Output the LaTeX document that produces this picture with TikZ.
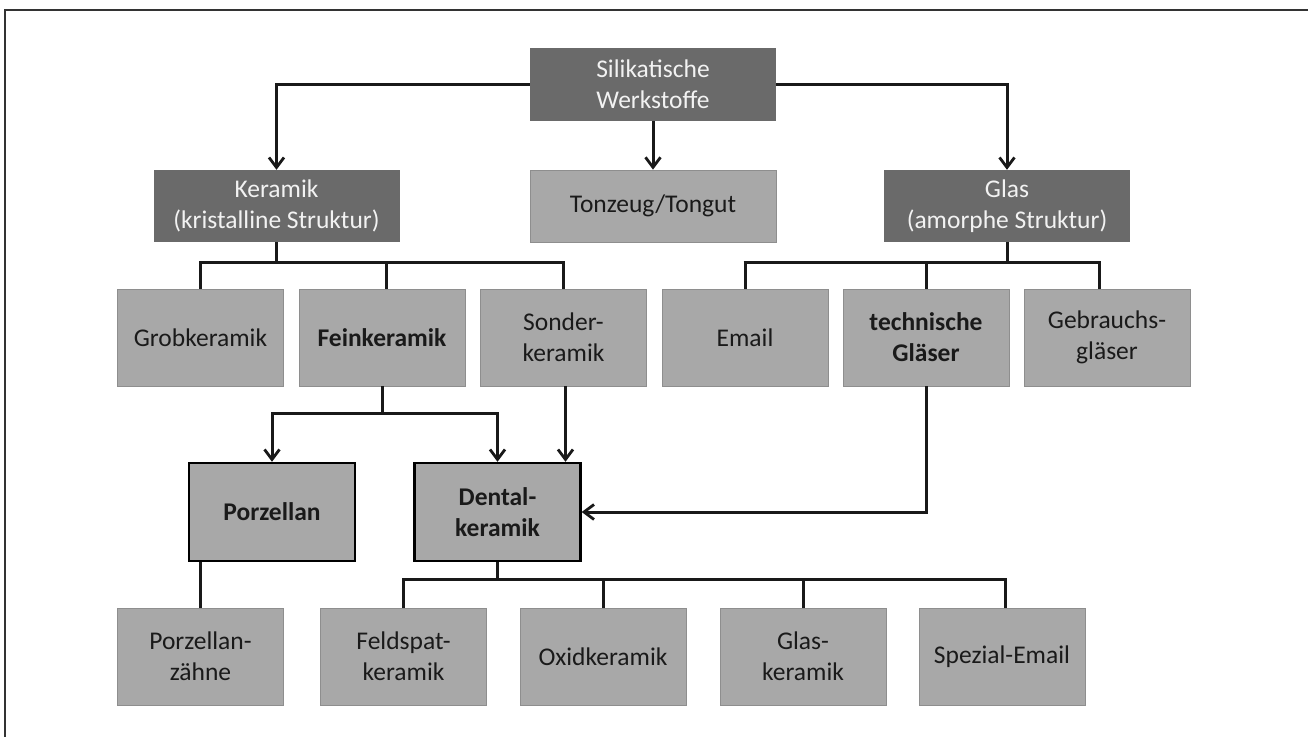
\documentclass[tikz,border=0pt]{standalone}
\usepackage{fontspec}
\setmainfont{Carlito}
\usetikzlibrary{arrows.meta}
\definecolor{darkbox}{HTML}{6A6A6A}
\definecolor{lightbox}{HTML}{A8A8A8}
\definecolor{lightedge}{HTML}{8E8E8E}
\definecolor{txtdark}{HTML}{1A1A1A}
\definecolor{txtlight}{HTML}{F2F2F2}
\definecolor{framecol}{HTML}{333333}
\tikzset{
  base/.style={rectangle, align=center, inner sep=2pt, font=\fontsize{25.5}{31}\selectfont},
  darkn/.style={base, fill=darkbox, text=txtlight, minimum width=246pt, minimum height=73pt},
  lightn/.style={base, fill=lightbox, draw=lightedge, line width=0.8pt, text=txtdark, minimum width=166pt, minimum height=97pt},
  keyn/.style={base, fill=lightbox, draw=black, line width=2.4pt, text=txtdark, minimum width=166pt, minimum height=98pt, font=\fontsize{25.5}{31}\selectfont\bfseries},
  conn/.style={line width=3pt, draw=black!90},
  arr/.style={conn, -{Straight Barb[length=10pt,width=15pt,line width=2.8pt]}},
}
\begin{document}
\begin{tikzpicture}[x=1pt,y=-1pt]
\useasboundingbox (0,0) rectangle (1308,737);
\draw[framecol, line width=2pt] (1308,10) -- (5,10) -- (5,737);

% level 0/1
\node[darkn] (sil) at (653,84.5) {Silikatische\\Werkstoffe};
\node[darkn, minimum height=72pt] (ker) at (276.5,206) {Keramik\\(kristalline Struktur)};
\node[lightn, minimum width=246pt, minimum height=72pt] (ton) at (653,206) {Tonzeug/Tongut};
\node[darkn, minimum height=72pt] (gla) at (1007,206) {Glas\\(amorphe Struktur)};

% level 2
\node[lightn] (grob) at (200.5,337.5) {Grobkeramik};
\node[lightn, font=\fontsize{25.5}{31}\selectfont\bfseries] (fein) at (382,337.5) {Feinkeramik};
\node[lightn] (sond) at (563.5,337.5) {Sonder-\\keramik};
\node[lightn] (email) at (745,337.5) {Email};
\node[lightn, font=\fontsize{25.5}{31}\selectfont\bfseries] (tech) at (926,337.5) {technische\\Gläser};
\node[lightn] (gebr) at (1107,337.5) {Gebrauchs-\\gläser};

% level 3
\node[keyn] (porz) at (272,512) {Porzellan};
\node[keyn] (dent) at (497.5,512) {Dental-\\keramik};

% level 4
\node[lightn] (pz) at (200.5,656.5) {Porzellan-\\zähne};
\node[lightn] (feld) at (403.5,656.5) {Feldspat-\\keramik};
\node[lightn] (oxid) at (603,656.5) {Oxidkeramik};
\node[lightn] (glk) at (803,656.5) {Glas-\\keramik};
\node[lightn] (spez) at (1002,656.5) {Spezial-Email};

% bus coordinates
\coordinate (kbus) at (0,262);
\coordinate (gbus) at (0,262);
\coordinate (fbus) at (0,413);
\coordinate (dbus) at (0,579);

% top arrows
\draw[arr] (sil.west) -| (ker.north);
\draw[arr] (sil.east) -| (gla.north);
\draw[arr] (sil.south) -- (ton.north);

% Keramik bus
\draw[conn] (ker.south) -- (ker.south |- kbus);
\draw[conn] ([xshift=-1.5pt]grob.north |- kbus) -- ([xshift=1.5pt]sond.north |- kbus);
\draw[conn] (grob.north) -- (grob.north |- kbus);
\draw[conn] ([xshift=4pt]fein.north) -- ([xshift=4pt]fein.north |- kbus);
\draw[conn] (sond.north) -- (sond.north |- kbus);

% Glas bus
\draw[conn] (gla.south) -- (gla.south |- gbus);
\draw[conn] ([xshift=-1.5pt]email.north |- gbus) -- ([xshift=-6.5pt]gebr.north |- gbus);
\draw[conn] (email.north) -- (email.north |- gbus);
\draw[conn] (tech.north) -- (tech.north |- gbus);
\draw[conn] ([xshift=-8pt]gebr.north) -- ([xshift=-8pt]gebr.north |- gbus);

% Feinkeramik to Porzellan / Dental
\draw[conn] (fein.south) -- (fein.south |- fbus);
\draw[arr] (fein.south |- fbus) -| (porz.north);
\draw[arr] (fein.south |- fbus) -| (dent.north);
\draw[arr] ([xshift=2pt]sond.south) -- ([xshift=2pt]sond.south |- dent.north);
\draw[arr] (tech.south) |- (dent.east);

% Porzellan to Porzellanzaehne
\draw[conn] (pz.north) -- (pz.north |- porz.south);

% Dental bus
\draw[conn] (dent.south) -- (dent.south |- dbus);
\draw[conn] ([xshift=-1.5pt]feld.north |- dbus) -- ([xshift=4.5pt]spez.north |- dbus);
\draw[conn] (feld.north) -- (feld.north |- dbus);
\draw[conn] (oxid.north) -- (oxid.north |- dbus);
\draw[conn] (glk.north) -- (glk.north |- dbus);
\draw[conn] ([xshift=3pt]spez.north) -- ([xshift=3pt]spez.north |- dbus);
\end{tikzpicture}
\end{document}
